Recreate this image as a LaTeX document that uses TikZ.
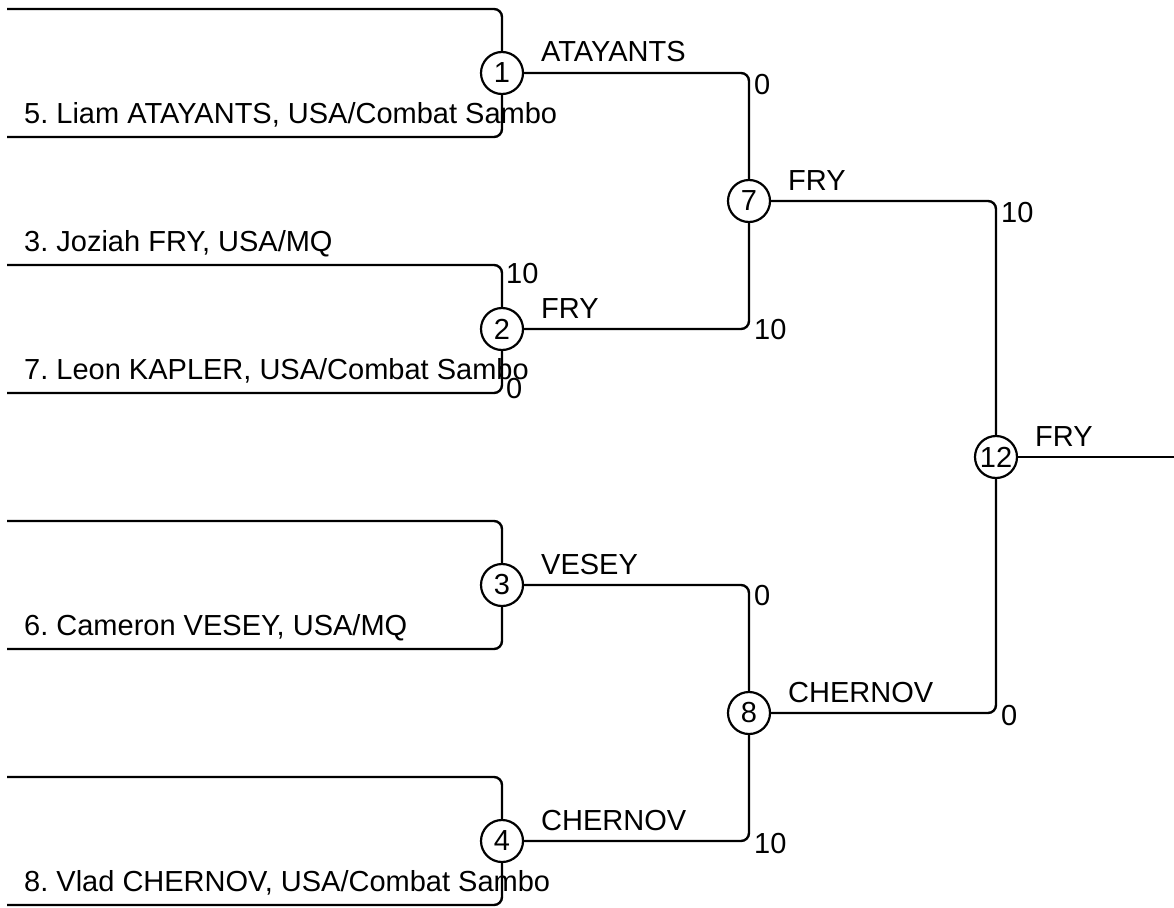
\documentclass[tikz,border=0pt]{standalone}
\usepackage{fontspec}
\setmainfont{Liberation Sans}
\frenchspacing
\tikzset{
  bout/.style={circle, draw, line width=2.2pt, minimum size=42pt, inner sep=0pt},
  lbl/.style={anchor=base west, inner sep=0pt},
}
\begin{document}
\begin{tikzpicture}[x=1pt, y=-1pt, line width=2.4pt, font=\fontsize{29}{33}\selectfont]
  \useasboundingbox (0,0) rectangle (1174,907);
  % slot ends
  \path
    (7,9) coordinate (s1)
    (7,137) coordinate (s2)
    (7,265) coordinate (s3)
    (7,393) coordinate (s4)
    (7,521) coordinate (s5)
    (7,649) coordinate (s6)
    (7,777) coordinate (s7)
    (7,905) coordinate (s8)
    (1174,457) coordinate (out);
  % bouts
  \draw
    (502,73) node[bout] (1){1}
    (502,329) node[bout] (2){2}
    (502,585) node[bout] (3){3}
    (502,841) node[bout] (4){4}
    (749,201) node[bout] (7){7}
    (749,713) node[bout] (8){8}
    (996,457) node[bout] (12){12};
  \begin{scope}[rounded corners=8pt]
    \draw (s1) -| (1);
    \draw (s2) -| (1);
    \draw (s3) -| (2);
    \draw (s4) -| (2);
    \draw (s5) -| (3);
    \draw (s6) -| (3);
    \draw (s7) -| (4);
    \draw (s8) -| (4);
    \draw (1) -| (7);
    \draw (2) -| (7);
    \draw (3) -| (8);
    \draw (4) -| (8);
    \draw (7) -| (12);
    \draw (8) -| (12);
    \draw (12) -- (out);
  \end{scope}
  % entrants
  \node[lbl] (p5) at (23,123) {5. Liam ATAYANTS, USA/Combat Sambo};
  \node[lbl] (p3) at (23,251) {3. Joziah FRY, USA/MQ};
  \node[lbl] (p7) at (23,379) {7. Leon KAPLER, USA/Combat Sambo};
  \node[lbl] (p6) at (23,635) {6. Cameron VESEY, USA/MQ};
  \node[lbl] (p8) at (23,891) {8. Vlad CHERNOV, USA/Combat Sambo};
  % winners
  \node[lbl] (w1) at (540,62) {ATAYANTS};
  \node[lbl] (w2) at (540,318) {FRY};
  \node[lbl] (w3) at (540,574) {VESEY};
  \node[lbl] (w4) at (540,830) {CHERNOV};
  \node[lbl] (w7) at (787,190) {FRY};
  \node[lbl] (w8) at (787,702) {CHERNOV};
  \node[lbl] (w12) at (1034,446) {FRY};
  % scores
  \node[lbl] (r2a) at (505,283) {10};
  \node[lbl] (r2b) at (505,398) {0};
  \node[lbl] (r7a) at (753,94) {0};
  \node[lbl] (r7b) at (753,339) {10};
  \node[lbl] (r8a) at (753,605) {0};
  \node[lbl] (r8b) at (753,853) {10};
  \node[lbl] (r12a) at (1000,222) {10};
  \node[lbl] (r12b) at (1000,725) {0};
\end{tikzpicture}
\end{document}
